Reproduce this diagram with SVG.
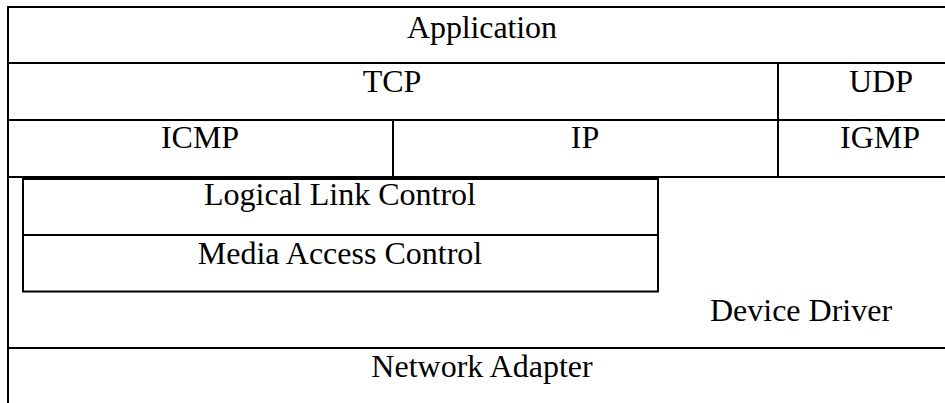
<svg xmlns="http://www.w3.org/2000/svg" width="945" height="403" viewBox="0 0 945 403">
  <style>
    .ln { stroke: #000; stroke-width: 2; fill: none; }
    .lbl { font-family: "Liberation Serif", "Times New Roman", serif; font-size: 32px; fill: #000; text-anchor: middle; }
  </style>
  <rect width="945" height="403" fill="#fff"/>

  <!-- protocol stack grid -->
  <g id="frame">
    <line class="ln" x1="8" y1="7" x2="945" y2="7"/>
    <line class="ln" x1="8" y1="6" x2="8" y2="403"/>
    <line class="ln" x1="7" y1="63" x2="945" y2="63"/>
    <line class="ln" x1="7" y1="120" x2="945" y2="120"/>
    <line class="ln" x1="7" y1="177" x2="945" y2="177"/>
    <line class="ln" x1="778" y1="63" x2="778" y2="177"/>
    <line class="ln" x1="393" y1="120" x2="393" y2="177"/>
    <line class="ln" x1="7" y1="348" x2="945" y2="348"/>
  </g>

  <g id="application"><text class="lbl" x="482" y="38" textLength="150">Application</text></g>
  <g id="tcp"><text class="lbl" x="392" y="92">TCP</text></g>
  <g id="udp"><text class="lbl" x="881" y="92">UDP</text></g>
  <g id="icmp"><text class="lbl" x="200" y="148">ICMP</text></g>
  <g id="ip"><text class="lbl" x="585" y="148">IP</text></g>
  <g id="igmp"><text class="lbl" x="880" y="148">IGMP</text></g>

  <!-- data link sublayers -->
  <g id="llc">
    <rect class="ln" x="23" y="179" width="635" height="56"/>
    <text class="lbl" x="340" y="205">Logical Link Control</text>
  </g>
  <g id="mac">
    <rect class="ln" x="23" y="235" width="635" height="56.5"/>
    <text class="lbl" x="340" y="264">Media Access Control</text>
  </g>

  <g id="device-driver"><text class="lbl" x="801" y="321">Device Driver</text></g>
  <g id="network-adapter"><text class="lbl" x="482" y="377">Network Adapter</text></g>
</svg>
